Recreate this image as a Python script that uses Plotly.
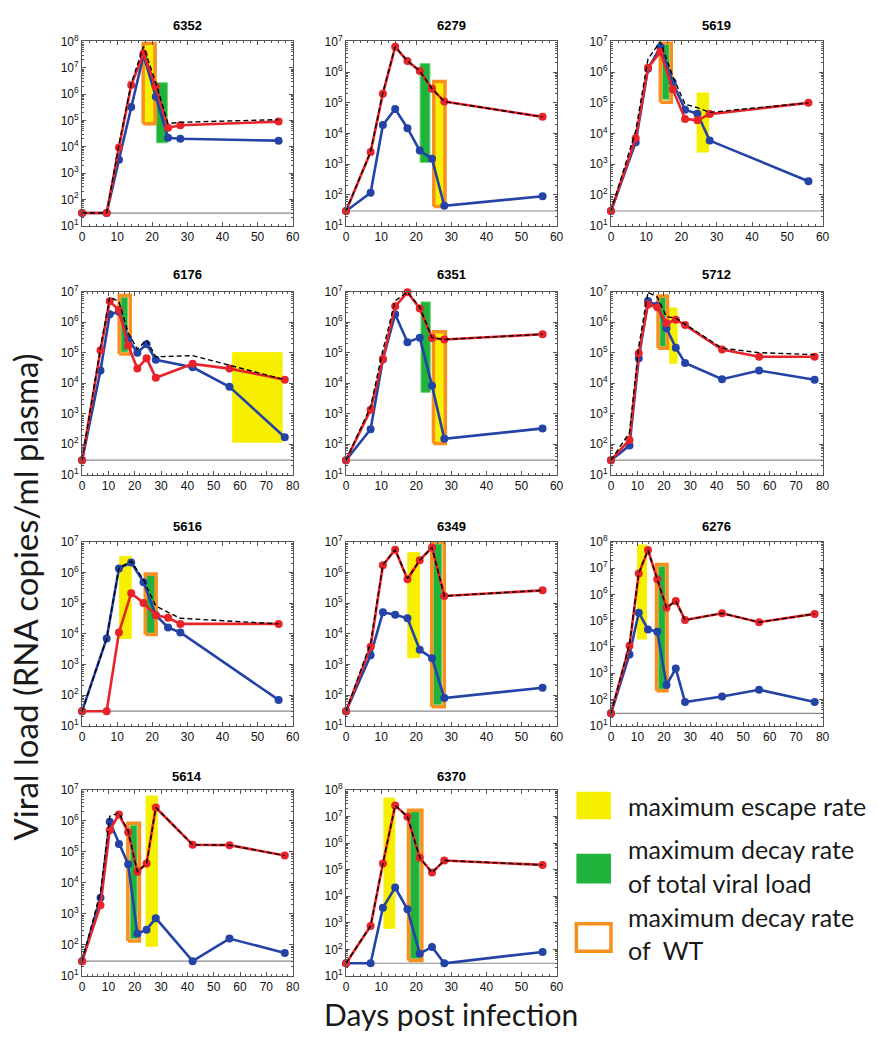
import plotly.graph_objects as go

W, H = 877, 1043

# ---------------- data ----------------
DAYS_60 = [0, 7, 10.5, 14, 17.5, 21, 24.5, 28, 56]
DAYS_80 = [0, 7, 10.5, 14, 17.5, 21, 24.5, 28, 42, 56, 77]
DETECTION_LIMIT = 30
X_TICKS_60 = [0, 10, 20, 30, 40, 50, 60]
X_TICKS_80 = [0, 10, 20, 30, 40, 50, 60, 70, 80]

# red = escape variant, blue = wild type, total = black dashed
red_6352 = [30, 30, 9.4e3, 2.2e6, 3.5e7, 1.9e6, 5.3e4, 6.5e4, 9e4]
blue_6352 = [30, 30, 3.2e3, 3.2e5, 3e7, 8e5, 2.2e4, 2e4, 1.7e4]
total_6352 = [30, 30, 1.2e4, 2.5e6, 6.5e7, 2.7e6, 7.5e4, 8.5e4, 1.07e5]

red_6279 = [30, 2.5e3, 2e5, 6.7e6, 2.3e6, 1.1e6, 2.9e5, 1.1e5, 3.5e4]
blue_6279 = [30, 117, 1.9e4, 6.3e4, 1.5e4, 2.8e3, 1.5e3, 44, 91]
total_6279 = [30, 2.6e3, 2.2e5, 6.8e6, 2.3e6, 1.1e6, 2.9e5, 1.1e5, 3.5e4]

red_5619 = [30, 7e3, 1.4e6, 4.6e6, 2.8e5, 3e4, 2.7e4, 4.3e4, 1e5]
blue_5619 = [30, 5.2e3, 1.3e6, 6.6e6, 4.7e5, 6e4, 4.4e4, 5.9e3, 280]
total_5619 = [30, 1.2e4, 2.7e6, 1e7, 7.5e5, 9e4, 7e4, 4.9e4, 1e5]

red_6176 = [30, 1.2e5, 4.8e6, 2.5e6, 1.7e5, 3e4, 6.6e4, 1.5e4, 4.3e4, 3e4, 1.3e4]
blue_6176 = [30, 2.6e4, 1.8e6, 2.2e6, 2.8e5, 1e5, 1.9e5, 5.8e4, 3.3e4, 7.6e3, 170]
total_6176 = [30, 1.5e5, 6.6e6, 4.7e6, 4.5e5, 1.3e5, 2.6e5, 7.3e4, 8e4, 3.8e4, 1.3e4]

red_6351 = [30, 1.35e3, 6.2e4, 3.3e6, 9.5e6, 2.8e6, 3e5, 2.7e5, 4e5]
blue_6351 = [30, 310, 6e4, 1.8e6, 2.2e5, 3.1e5, 8.3e3, 150, 330]
total_6351 = [30, 1.7e3, 1.2e5, 5e6, 9.7e6, 3.1e6, 3.1e5, 2.7e5, 4e5]

red_5712 = [30, 138, 9.5e4, 3.8e6, 3.1e6, 9.1e5, 1.2e6, 8e5, 1.27e5, 7.3e4, 7.3e4]
blue_5712 = [30, 91, 6.5e4, 4.9e6, 3.5e6, 6.3e5, 1.45e5, 4.6e4, 1.35e4, 2.6e4, 1.3e4]
total_5712 = [30, 240, 1.6e5, 9.5e6, 6.6e6, 1.5e6, 1.35e6, 8.5e5, 1.4e5, 1e5, 8.6e4]

red_5616 = [30, 30, 1.1e4, 2.1e5, 1e5, 4e4, 3.3e4, 2.1e4, 2.1e4]
blue_5616 = [30, 7e3, 1.35e6, 2.1e6, 4.8e5, 4e4, 1.6e4, 1.1e4, 70]
total_5616 = [30, 7e3, 1.4e6, 2.3e6, 5.8e5, 8e4, 5e4, 3.2e4, 2.1e4]

red_6349 = [30, 3.8e3, 1.7e6, 5.5e6, 6e5, 2.5e6, 6.5e6, 1.7e5, 2.6e5]
blue_6349 = [30, 2e3, 5e4, 4.2e4, 3.2e4, 3e3, 1.6e3, 80, 175]
total_6349 = [30, 5e3, 1.75e6, 5.5e6, 6.3e5, 2.5e6, 6.5e6, 1.7e5, 2.6e5]

red_6276 = [30, 1.1e4, 6.2e6, 4.8e7, 3.7e6, 3.1e5, 5.6e5, 1.05e5, 1.9e5, 8.7e4, 1.8e5]
blue_6276 = [30, 5.2e3, 2e5, 4.6e4, 3.8e4, 360, 1.5e3, 80, 130, 235, 80]
total_6276 = [30, 1.3e4, 6.4e6, 4.8e7, 3.7e6, 3.1e5, 5.6e5, 1.05e5, 1.9e5, 8.7e4, 1.8e5]

red_5614 = [30, 1.9e3, 5e5, 1.6e6, 4.3e5, 2.3e4, 4.2e4, 2.7e6, 1.7e5, 1.65e5, 7.6e4]
blue_5614 = [30, 3.3e3, 9.3e5, 1.8e5, 4e4, 230, 310, 730, 30, 160, 55]
total_5614 = [30, 5e3, 1.4e6, 1.8e6, 4.7e5, 2.3e4, 4.2e4, 2.7e6, 1.7e5, 1.65e5, 7.6e4]

red_6370 = [30, 760, 1.7e5, 2.6e7, 9.8e6, 2.8e5, 7.7e4, 2.2e5, 1.5e5]
blue_6370 = [30, 30, 3.7e3, 2.1e4, 3.2e3, 69, 123, 30, 80]
total_6370 = [30, 780, 1.7e5, 2.6e7, 9.8e6, 2.8e5, 7.7e4, 2.2e5, 1.5e5]

# boxes: [day_start, day_end, load_low, load_high]
esc_6352 = [17.4, 20.8, 7.5e4, 8.5e7]
tot_6352 = [21.2, 24.3, 1.4e4, 2.7e6]
wt_6352 = [17.4, 20.8, 7.5e4, 8.5e7]

esc_6279 = [25.0, 28.2, 42, 5e5]
tot_6279 = [21.1, 23.9, 1.15e3, 1.9e6]
wt_6279 = [25.0, 28.2, 42, 5e5]

esc_5619 = [24.4, 27.7, 2.5e3, 2.1e5]
tot_5619 = [14.6, 16.5, 1.3e5, 8.3e6]
wt_5619 = [14.0, 17.1, 1.05e5, 9e6]

esc_6176 = [57.2, 76.0, 117, 1e5]
tot_6176 = [14.8, 17.3, 1.05e5, 6.5e6]
wt_6176 = [14.1, 18.3, 9e4, 7.5e6]

esc_6351 = [24.9, 28.3, 105, 4.8e5]
tot_6351 = [21.35, 24.0, 5e3, 4.6e6]
wt_6351 = [24.9, 28.3, 105, 4.8e5]

esc_5712 = [22.2, 25.0, 4.5e4, 2.9e6]
tot_5712 = [18.5, 20.6, 1.6e5, 6.5e6]
wt_5712 = [17.8, 21.4, 1.4e5, 7.2e6]

esc_5616 = [10.7, 14.0, 7e3, 3.3e6]
tot_5616 = [18.4, 20.8, 1.05e4, 8e5]
wt_5616 = [18.0, 21.1, 9.5e3, 8.8e5]

esc_6349 = [17.6, 20.9, 1.65e3, 4.4e6]
tot_6349 = [24.9, 27.3, 50, 8.4e6]
wt_6349 = [24.4, 28.0, 42, 9.8e6]

esc_6276 = [10.0, 13.4, 2e4, 7.5e7]
tot_6276 = [18.0, 20.5, 250, 1.15e7]
wt_6276 = [17.2, 21.2, 215, 1.35e7]

esc_5614 = [24.3, 28.6, 90, 6.3e6]
tot_5614 = [18.3, 20.9, 160, 7.2e5]
wt_5614 = [17.4, 21.8, 135, 8.3e5]

esc_6370 = [10.8, 13.9, 620, 4.9e7]
tot_6370 = [18.3, 20.9, 45, 1.5e7]
wt_6370 = [17.8, 21.6, 38, 1.7e7]

PANELS = [
    ("6352", DAYS_60, 60, 8, red_6352, blue_6352, total_6352, esc_6352, tot_6352, wt_6352),
    ("6279", DAYS_60, 60, 7, red_6279, blue_6279, total_6279, esc_6279, tot_6279, wt_6279),
    ("5619", DAYS_60, 60, 7, red_5619, blue_5619, total_5619, esc_5619, tot_5619, wt_5619),
    ("6176", DAYS_80, 80, 7, red_6176, blue_6176, total_6176, esc_6176, tot_6176, wt_6176),
    ("6351", DAYS_60, 60, 7, red_6351, blue_6351, total_6351, esc_6351, tot_6351, wt_6351),
    ("5712", DAYS_80, 80, 7, red_5712, blue_5712, total_5712, esc_5712, tot_5712, wt_5712),
    ("5616", DAYS_60, 60, 7, red_5616, blue_5616, total_5616, esc_5616, tot_5616, wt_5616),
    ("6349", DAYS_60, 60, 7, red_6349, blue_6349, total_6349, esc_6349, tot_6349, wt_6349),
    ("6276", DAYS_80, 80, 8, red_6276, blue_6276, total_6276, esc_6276, tot_6276, wt_6276),
    ("5614", DAYS_80, 80, 7, red_5614, blue_5614, total_5614, esc_5614, tot_5614, wt_5614),
    ("6370", DAYS_60, 60, 8, red_6370, blue_6370, total_6370, esc_6370, tot_6370, wt_6370),
]

LEGEND_LINES = [["maximum escape rate"],
                ["maximum decay rate", "of total viral load"],
                ["maximum decay rate", "of  WT"]]

# ---------------- style ----------------
RED = "#e8242a"
BLUE = "#2343a6"
YELLOW = "#f6f000"
GREEN = "#1fb33c"
GREEN_EDGE = "#6fd36f"
ORANGE = "#f7901e"
AXIS_COL = "#555555"
TICK_FONT = dict(family="Liberation Sans, Arial", size=12, color="#111111")

COL_PX = [(80, 293), (347, 560), (615, 829)]
ROW_PX = [(33, 220), (287, 473), (541, 728), (793, 982)]
TITLE_PX = [17, 270, 526, 779]


def px_x(v):
    return v / W


def px_y(v):
    return 1 - v / H


def box_xy(b):
    x0, x1, y0, y1 = b
    return [x0, x0, x1, x1, x0], [y0, y1, y1, y0, y0]


fig = go.Figure()
annotations = []
shapes = []

for i, (name, days, xmax, ymax, red, blue, total, esc, tot, wt) in enumerate(PANELS):
    r, c = divmod(i, 3)
    suf = "" if i == 0 else str(i + 1)
    xa, ya = "x" + suf, "y" + suf
    xd = [px_x(COL_PX[c][0]), px_x(COL_PX[c][1])]
    yd = [px_y(ROW_PX[r][1]), px_y(ROW_PX[r][0])]

    # boxes
    bx, by = box_xy(esc)
    fig.add_trace(go.Scatter(x=bx, y=by, xaxis=xa, yaxis=ya, mode="lines", fill="toself",
                             fillcolor=YELLOW, line=dict(color=YELLOW, width=1), hoverinfo="skip"))
    bx, by = box_xy(tot)
    fig.add_trace(go.Scatter(x=bx, y=by, xaxis=xa, yaxis=ya, mode="lines", fill="toself",
                             fillcolor=GREEN, line=dict(color=GREEN_EDGE, width=1), hoverinfo="skip"))
    bx, by = box_xy(wt)
    fig.add_trace(go.Scatter(x=bx, y=by, xaxis=xa, yaxis=ya, mode="lines",
                             line=dict(color=ORANGE, width=3.5), hoverinfo="skip"))

    # detection limit
    fig.add_trace(go.Scatter(x=[0, xmax], y=[DETECTION_LIMIT, DETECTION_LIMIT], xaxis=xa, yaxis=ya,
                             mode="lines", line=dict(color="#8a8a8a", width=1.2), hoverinfo="skip"))

    fig.add_trace(go.Scatter(x=days, y=blue, xaxis=xa, yaxis=ya, mode="lines+markers",
                             line=dict(color=BLUE, width=2.6), marker=dict(color=BLUE, size=8),
                             cliponaxis=False))
    fig.add_trace(go.Scatter(x=days, y=red, xaxis=xa, yaxis=ya, mode="lines+markers",
                             line=dict(color=RED, width=2.6), marker=dict(color=RED, size=8),
                             cliponaxis=False))
    fig.add_trace(go.Scatter(x=days, y=total, xaxis=xa, yaxis=ya, mode="lines",
                             line=dict(color="black", width=1.4, dash="5px,3px"),
                             cliponaxis=False))

    xticks = X_TICKS_60 if xmax == 60 else X_TICKS_80
    yvals = [10 ** k for k in range(1, ymax + 1)]
    ytext = ["10<sup>%d</sup>" % k for k in range(1, ymax + 1)]

    fig.layout["xaxis" + suf] = dict(
        domain=xd, anchor=ya, range=[0, xmax], tickmode="array", tickvals=xticks,
        showgrid=False, zeroline=False, showline=True, linecolor=AXIS_COL, linewidth=1,
        mirror="allticks", ticks="inside", ticklen=4, tickcolor=AXIS_COL,
        minor=dict(ticks="inside", ticklen=2, dtick=2, tickcolor=AXIS_COL, showgrid=False),
        tickfont=TICK_FONT, fixedrange=True)
    fig.layout["yaxis" + suf] = dict(
        domain=yd, anchor=xa, type="log", range=[1, ymax], tickmode="array",
        tickvals=yvals, ticktext=ytext,
        showgrid=False, zeroline=False, showline=True, linecolor=AXIS_COL, linewidth=1,
        mirror="allticks", ticks="inside", ticklen=4, tickcolor=AXIS_COL,
        minor=dict(ticks="inside", ticklen=2, dtick="D1", tickcolor=AXIS_COL, showgrid=False),
        tickfont=TICK_FONT, fixedrange=True)

    annotations.append(dict(text="<b>%s</b>" % name, x=(xd[0] + xd[1]) / 2, y=px_y(TITLE_PX[r]),
                            xref="paper", yref="paper", showarrow=False, xanchor="center",
                            yanchor="middle",
                            font=dict(family="Liberation Sans, Arial", size=13, color="black")))

# axis titles
annotations.append(dict(text="Viral load (RNA copies/ml plasma)", x=px_x(22), y=px_y(597),
                        xref="paper", yref="paper", showarrow=False, textangle=-90,
                        xanchor="center", yanchor="middle",
                        font=dict(family="Lato", size=33, color="#1a1a1a")))
annotations.append(dict(text="Days post infection", x=px_x(453), y=px_y(1021),
                        xref="paper", yref="paper", showarrow=False,
                        xanchor="center", yanchor="middle",
                        font=dict(family="Lato", size=30, color="#1a1a1a")))

# legend
LEG_BOX_X = (580, 615)
leg_rows = [(795, 823, YELLOW, None, [809]),
            (858, 888, GREEN, None, [853, 888]),
            (929, 957, None, ORANGE, [922, 956])]
for (t, b, fillc, linec, tys), lines in zip(leg_rows, LEGEND_LINES):
    shapes.append(dict(type="rect", xref="paper", yref="paper",
                       x0=px_x(LEG_BOX_X[0]), x1=px_x(LEG_BOX_X[1]), y0=px_y(b), y1=px_y(t),
                       fillcolor=fillc if fillc else "rgba(0,0,0,0)",
                       line=dict(color=linec if linec else fillc, width=3.5 if linec else 0)))
    for ty, label in zip(tys, lines):
        annotations.append(dict(text=label, x=px_x(630), y=px_y(ty), xref="paper", yref="paper",
                                showarrow=False, xanchor="left", yanchor="middle", align="left",
                                font=dict(family="Lato", size=25, color="#1a1a1a")))

fig.update_layout(width=W, height=H, margin=dict(l=0, r=0, t=0, b=0),
                  paper_bgcolor="white", plot_bgcolor="white", showlegend=False,
                  annotations=annotations, shapes=shapes)

fig.write_html("out.html")
